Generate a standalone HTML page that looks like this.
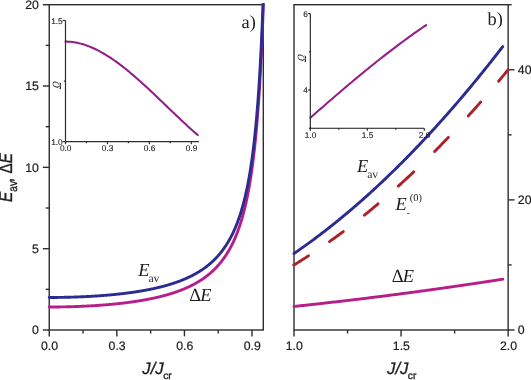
<!DOCTYPE html>
<html><head><meta charset="utf-8"><title>Figure</title>
<style>html,body{margin:0;padding:0;background:#fff}svg{display:block;will-change:transform}text{text-rendering:geometricPrecision}</style></head>
<body>
<svg width="531" height="380" viewBox="0 0 531 380">
<rect width="531" height="380" fill="#fff"/>
<defs><clipPath id="cl"><rect x="46.2" y="3.2" width="219.1" height="328.3"/></clipPath></defs>
<g fill="none" stroke="#302c2d" stroke-width="1.40" stroke-linecap="butt">
<rect x="49.25" y="4.70" width="214.05" height="325.30"/>
<rect x="294.00" y="4.70" width="214.15" height="325.30"/>
<path d="M49.25 330.00 H42.85"/>
<path d="M49.25 289.34 H45.75"/>
<path d="M49.25 248.68 H42.85"/>
<path d="M49.25 208.01 H45.75"/>
<path d="M49.25 167.35 H42.85"/>
<path d="M49.25 126.69 H45.75"/>
<path d="M49.25 86.02 H42.85"/>
<path d="M49.25 45.36 H45.75"/>
<path d="M49.25 4.70 H42.85"/>
<path d="M49.25 330.00 V336.40"/>
<path d="M83.05 330.00 V333.50"/>
<path d="M116.84 330.00 V336.40"/>
<path d="M150.63 330.00 V333.50"/>
<path d="M184.43 330.00 V336.40"/>
<path d="M218.23 330.00 V333.50"/>
<path d="M252.02 330.00 V336.40"/>
<path d="M508.15 330.00 H514.55"/>
<path d="M508.15 264.94 H511.65"/>
<path d="M508.15 199.88 H514.55"/>
<path d="M508.15 134.82 H511.65"/>
<path d="M508.15 69.76 H514.55"/>
<path d="M508.15 4.70 H511.65"/>
<path d="M294.00 330.00 V336.40"/>
<path d="M347.54 330.00 V333.50"/>
<path d="M401.07 330.00 V336.40"/>
<path d="M454.61 330.00 V333.50"/>
<path d="M508.15 330.00 V336.40"/>
</g>
<g fill="none" stroke-linecap="round" stroke-linejoin="round" clip-path="url(#cl)">
<path d="M49.25 307.00 L49.61 307.00 L49.97 307.00 L50.32 307.00 L50.68 307.00 L51.04 307.00 L51.40 306.99 L51.75 306.99 L52.11 306.99 L52.47 306.99 L52.83 306.99 L53.18 306.99 L53.54 306.99 L53.90 306.98 L54.26 306.98 L54.61 306.98 L54.97 306.98 L55.33 306.97 L55.69 306.97 L56.04 306.97 L56.40 306.97 L56.76 306.96 L57.12 306.96 L57.47 306.95 L57.83 306.95 L58.19 306.95 L58.55 306.94 L58.90 306.94 L59.26 306.93 L59.62 306.93 L59.98 306.92 L60.33 306.92 L60.69 306.91 L61.05 306.91 L61.41 306.90 L61.76 306.90 L62.12 306.89 L62.48 306.89 L62.84 306.88 L63.19 306.87 L63.55 306.87 L63.91 306.86 L64.27 306.85 L64.62 306.85 L64.98 306.84 L65.34 306.83 L65.70 306.82 L66.05 306.82 L66.41 306.81 L66.77 306.80 L67.13 306.79 L67.48 306.78 L67.84 306.77 L68.20 306.77 L68.56 306.76 L68.92 306.75 L69.27 306.74 L69.63 306.73 L69.99 306.72 L70.35 306.71 L70.70 306.70 L71.06 306.69 L71.42 306.68 L71.78 306.67 L72.13 306.66 L72.49 306.65 L72.85 306.64 L73.21 306.63 L73.56 306.61 L73.92 306.60 L74.28 306.59 L74.64 306.58 L74.99 306.57 L75.35 306.56 L75.71 306.54 L76.07 306.53 L76.42 306.52 L76.78 306.50 L77.14 306.49 L77.50 306.48 L77.85 306.47 L78.21 306.45 L78.57 306.44 L78.93 306.42 L79.28 306.41 L79.64 306.40 L80.00 306.38 L80.36 306.37 L80.71 306.35 L81.07 306.34 L81.43 306.32 L81.79 306.31 L82.14 306.29 L82.50 306.27 L82.86 306.26 L83.22 306.24 L83.57 306.23 L83.93 306.21 L84.29 306.19 L84.65 306.17 L85.00 306.16 L85.36 306.14 L85.72 306.12 L86.08 306.11 L86.43 306.09 L86.79 306.07 L87.15 306.05 L87.51 306.03 L87.86 306.01 L88.22 305.99 L88.58 305.98 L88.94 305.96 L89.30 305.94 L89.65 305.92 L90.01 305.90 L90.37 305.88 L90.73 305.86 L91.08 305.84 L91.44 305.82 L91.80 305.80 L92.16 305.77 L92.51 305.75 L92.87 305.73 L93.23 305.71 L93.59 305.69 L93.94 305.67 L94.30 305.64 L94.66 305.62 L95.02 305.60 L95.37 305.58 L95.73 305.55 L96.09 305.53 L96.45 305.51 L96.80 305.48 L97.16 305.46 L97.52 305.43 L97.88 305.41 L98.23 305.38 L98.59 305.36 L98.95 305.34 L99.31 305.31 L99.66 305.28 L100.02 305.26 L100.38 305.23 L100.74 305.21 L101.09 305.18 L101.45 305.15 L101.81 305.13 L102.17 305.10 L102.52 305.07 L102.88 305.05 L103.24 305.02 L103.60 304.99 L103.95 304.96 L104.31 304.93 L104.67 304.90 L105.03 304.88 L105.38 304.85 L105.74 304.82 L106.10 304.79 L106.46 304.76 L106.81 304.73 L107.17 304.70 L107.53 304.67 L107.89 304.64 L108.25 304.61 L108.60 304.57 L108.96 304.54 L109.32 304.51 L109.68 304.48 L110.03 304.45 L110.39 304.41 L110.75 304.38 L111.11 304.35 L111.46 304.32 L111.82 304.28 L112.18 304.25 L112.54 304.21 L112.89 304.18 L113.25 304.15 L113.61 304.11 L113.97 304.08 L114.32 304.04 L114.68 304.00 L115.04 303.97 L115.40 303.93 L115.75 303.90 L116.11 303.86 L116.47 303.82 L116.83 303.79 L117.18 303.75 L117.54 303.71 L117.90 303.67 L118.26 303.63 L118.61 303.60 L118.97 303.56 L119.33 303.52 L119.69 303.48 L120.04 303.44 L120.40 303.40 L120.76 303.36 L121.12 303.32 L121.47 303.28 L121.83 303.24 L122.19 303.19 L122.55 303.15 L122.90 303.11 L123.26 303.07 L123.62 303.03 L123.98 302.98 L124.33 302.94 L124.69 302.90 L125.05 302.85 L125.41 302.81 L125.76 302.76 L126.12 302.72 L126.48 302.67 L126.84 302.63 L127.20 302.58 L127.55 302.54 L127.91 302.49 L128.27 302.44 L128.63 302.40 L128.98 302.35 L129.34 302.30 L129.70 302.25 L130.06 302.20 L130.41 302.15 L130.77 302.11 L131.13 302.06 L131.49 302.01 L131.84 301.96 L132.20 301.91 L132.56 301.85 L132.92 301.80 L133.27 301.75 L133.63 301.70 L133.99 301.65 L134.35 301.59 L134.70 301.54 L135.06 301.49 L135.42 301.43 L135.78 301.38 L136.13 301.33 L136.49 301.27 L136.85 301.22 L137.21 301.16 L137.56 301.10 L137.92 301.05 L138.28 300.99 L138.64 300.93 L138.99 300.88 L139.35 300.82 L139.71 300.76 L140.07 300.70 L140.42 300.64 L140.78 300.58 L141.14 300.52 L141.50 300.46 L141.85 300.40 L142.21 300.34 L142.57 300.28 L142.93 300.21 L143.28 300.15 L143.64 300.09 L144.00 300.02 L144.36 299.96 L144.71 299.89 L145.07 299.83 L145.43 299.76 L145.79 299.70 L146.15 299.63 L146.50 299.57 L146.86 299.50 L147.22 299.43 L147.58 299.36 L147.93 299.29 L148.29 299.22 L148.65 299.15 L149.01 299.08 L149.36 299.01 L149.72 298.94 L150.08 298.87 L150.44 298.80 L150.79 298.73 L151.15 298.65 L151.51 298.58 L151.87 298.50 L152.22 298.43 L152.58 298.35 L152.94 298.28 L153.30 298.20 L153.65 298.12 L154.01 298.05 L154.37 297.97 L154.73 297.89 L155.08 297.81 L155.44 297.73 L155.80 297.65 L156.16 297.57 L156.51 297.49 L156.87 297.41 L157.23 297.32 L157.59 297.24 L157.94 297.16 L158.30 297.07 L158.66 296.99 L159.02 296.90 L159.37 296.81 L159.73 296.73 L160.09 296.64 L160.45 296.55 L160.80 296.46 L161.16 296.37 L161.52 296.28 L161.88 296.19 L162.23 296.10 L162.59 296.01 L162.95 295.91 L163.31 295.82 L163.66 295.73 L164.02 295.63 L164.38 295.53 L164.74 295.44 L165.09 295.34 L165.45 295.24 L165.81 295.14 L166.17 295.04 L166.53 294.94 L166.88 294.84 L167.24 294.74 L167.60 294.64 L167.96 294.54 L168.31 294.43 L168.67 294.33 L169.03 294.22 L169.39 294.11 L169.74 294.01 L170.10 293.90 L170.46 293.79 L170.82 293.68 L171.17 293.57 L171.53 293.46 L171.89 293.34 L172.25 293.23 L172.60 293.12 L172.96 293.00 L173.32 292.88 L173.68 292.77 L174.03 292.65 L174.39 292.53 L174.75 292.41 L175.11 292.29 L175.46 292.17 L175.82 292.05 L176.18 291.92 L176.54 291.80 L176.89 291.67 L177.25 291.54 L177.61 291.42 L177.97 291.29 L178.32 291.16 L178.68 291.03 L179.04 290.89 L179.40 290.76 L179.75 290.63 L180.11 290.49 L180.47 290.35 L180.83 290.22 L181.18 290.08 L181.54 289.94 L181.90 289.80 L182.26 289.65 L182.61 289.51 L182.97 289.37 L183.33 289.22 L183.69 289.07 L184.04 288.92 L184.40 288.77 L184.76 288.62 L185.12 288.47 L185.48 288.32 L185.83 288.16 L186.19 288.01 L186.55 287.85 L186.91 287.69 L187.26 287.53 L187.62 287.37 L187.98 287.20 L188.34 287.04 L188.69 286.87 L189.05 286.70 L189.41 286.53 L189.77 286.36 L190.12 286.19 L190.48 286.02 L190.84 285.84 L191.20 285.66 L191.55 285.48 L191.91 285.30 L192.27 285.12 L192.63 284.94 L192.98 284.75 L193.34 284.56 L193.70 284.38 L194.06 284.18 L194.41 283.99 L194.77 283.80 L195.13 283.60 L195.49 283.40 L195.84 283.20 L196.20 283.00 L196.56 282.80 L196.92 282.59 L197.27 282.38 L197.63 282.17 L197.99 281.96 L198.35 281.75 L198.70 281.53 L199.06 281.31 L199.42 281.09 L199.78 280.87 L200.13 280.64 L200.49 280.41 L200.85 280.18 L201.21 279.95 L201.56 279.72 L201.92 279.48 L202.28 279.24 L202.64 279.00 L202.99 278.75 L203.35 278.51 L203.71 278.26 L204.07 278.00 L204.43 277.75 L204.78 277.49 L205.14 277.23 L205.50 276.97 L205.86 276.70 L206.21 276.43 L206.57 276.16 L206.93 275.89 L207.29 275.61 L207.64 275.33 L208.00 275.04 L208.36 274.75 L208.72 274.46 L209.07 274.17 L209.43 273.87 L209.79 273.57 L210.15 273.27 L210.50 272.96 L210.86 272.65 L211.22 272.33 L211.58 272.01 L211.93 271.69 L212.29 271.37 L212.65 271.04 L213.01 270.70 L213.36 270.36 L213.72 270.02 L214.08 269.68 L214.44 269.32 L214.79 268.97 L215.15 268.61 L215.51 268.25 L215.87 267.88 L216.22 267.51 L216.58 267.13 L216.94 266.74 L217.30 266.36 L217.65 265.97 L218.01 265.57 L218.37 265.16 L218.73 264.76 L219.08 264.34 L219.44 263.92 L219.80 263.50 L220.16 263.07 L220.51 262.63 L220.87 262.19 L221.23 261.74 L221.59 261.29 L221.94 260.83 L222.30 260.36 L222.66 259.89 L223.02 259.41 L223.38 258.92 L223.73 258.43 L224.09 257.92 L224.45 257.42 L224.81 256.90 L225.16 256.38 L225.52 255.84 L225.88 255.31 L226.24 254.76 L226.59 254.20 L226.95 253.64 L227.31 253.06 L227.67 252.48 L228.02 251.89 L228.38 251.29 L228.74 250.68 L229.10 250.06 L229.45 249.43 L229.81 248.79 L230.17 248.14 L230.53 247.48 L230.88 246.81 L231.24 246.13 L231.60 245.43 L231.96 244.72 L232.31 244.00 L232.67 243.27 L233.03 242.53 L233.39 241.77 L233.74 241.00 L234.10 240.22 L234.46 239.42 L234.82 238.61 L235.17 237.78 L235.53 236.94 L235.89 236.08 L236.25 235.20 L236.60 234.31 L236.96 233.40 L237.32 232.47 L237.68 231.53 L238.03 230.56 L238.39 229.58 L238.75 228.58 L239.11 227.56 L239.46 226.51 L239.82 225.45 L240.18 224.36 L240.54 223.25 L240.89 222.11 L241.25 220.95 L241.61 219.77 L241.97 218.55 L242.32 217.32 L242.68 216.05 L243.04 214.75 L243.40 213.43 L243.76 212.07 L244.11 210.68 L244.47 209.26 L244.83 207.81 L245.19 206.31 L245.54 204.79 L245.90 203.22 L246.26 201.61 L246.62 199.96 L246.97 198.27 L247.33 196.54 L247.69 194.75 L248.05 192.92 L248.40 191.04 L248.76 189.11 L249.12 187.12 L249.48 185.07 L249.83 182.97 L250.19 180.80 L250.55 178.57 L250.91 176.27 L251.26 173.90 L251.62 171.46 L251.98 168.93 L252.34 166.33 L252.69 163.64 L253.05 160.86 L253.41 157.99 L253.77 155.02 L254.12 151.94 L254.48 148.75 L254.84 145.45 L255.20 142.02 L255.55 138.47 L255.91 134.78 L256.27 130.94 L256.63 126.95 L256.98 122.80 L257.34 118.48 L257.70 113.97 L258.06 109.26 L258.41 104.35 L258.77 99.21 L259.13 93.83 L259.49 88.20 L259.84 82.30 L260.20 76.10 L260.56 69.58 L260.92 62.72 L261.27 55.49 L261.63 47.86 L261.99 39.79 L262.35 31.25 L262.71 22.20 L263.06 12.58 L263.42 2.34" stroke="#b71e89" stroke-width="2.9"/>
<path d="M49.25 297.47 L49.61 297.47 L49.97 297.47 L50.32 297.47 L50.68 297.47 L51.04 297.47 L51.40 297.47 L51.75 297.47 L52.11 297.46 L52.47 297.46 L52.83 297.46 L53.18 297.46 L53.54 297.46 L53.90 297.46 L54.26 297.45 L54.61 297.45 L54.97 297.45 L55.33 297.45 L55.69 297.44 L56.04 297.44 L56.40 297.44 L56.76 297.43 L57.12 297.43 L57.47 297.43 L57.83 297.42 L58.19 297.42 L58.55 297.41 L58.90 297.41 L59.26 297.41 L59.62 297.40 L59.98 297.40 L60.33 297.39 L60.69 297.39 L61.05 297.38 L61.41 297.38 L61.76 297.37 L62.12 297.36 L62.48 297.36 L62.84 297.35 L63.19 297.34 L63.55 297.34 L63.91 297.33 L64.27 297.32 L64.62 297.32 L64.98 297.31 L65.34 297.30 L65.70 297.30 L66.05 297.29 L66.41 297.28 L66.77 297.27 L67.13 297.26 L67.48 297.26 L67.84 297.25 L68.20 297.24 L68.56 297.23 L68.92 297.22 L69.27 297.21 L69.63 297.20 L69.99 297.19 L70.35 297.18 L70.70 297.17 L71.06 297.16 L71.42 297.15 L71.78 297.14 L72.13 297.13 L72.49 297.12 L72.85 297.11 L73.21 297.10 L73.56 297.09 L73.92 297.08 L74.28 297.06 L74.64 297.05 L74.99 297.04 L75.35 297.03 L75.71 297.02 L76.07 297.00 L76.42 296.99 L76.78 296.98 L77.14 296.96 L77.50 296.95 L77.85 296.94 L78.21 296.92 L78.57 296.91 L78.93 296.90 L79.28 296.88 L79.64 296.87 L80.00 296.85 L80.36 296.84 L80.71 296.82 L81.07 296.81 L81.43 296.79 L81.79 296.78 L82.14 296.76 L82.50 296.75 L82.86 296.73 L83.22 296.71 L83.57 296.70 L83.93 296.68 L84.29 296.66 L84.65 296.65 L85.00 296.63 L85.36 296.61 L85.72 296.59 L86.08 296.58 L86.43 296.56 L86.79 296.54 L87.15 296.52 L87.51 296.50 L87.86 296.49 L88.22 296.47 L88.58 296.45 L88.94 296.43 L89.30 296.41 L89.65 296.39 L90.01 296.37 L90.37 296.35 L90.73 296.33 L91.08 296.31 L91.44 296.29 L91.80 296.27 L92.16 296.25 L92.51 296.22 L92.87 296.20 L93.23 296.18 L93.59 296.16 L93.94 296.14 L94.30 296.12 L94.66 296.09 L95.02 296.07 L95.37 296.05 L95.73 296.02 L96.09 296.00 L96.45 295.98 L96.80 295.95 L97.16 295.93 L97.52 295.91 L97.88 295.88 L98.23 295.86 L98.59 295.83 L98.95 295.81 L99.31 295.78 L99.66 295.76 L100.02 295.73 L100.38 295.70 L100.74 295.68 L101.09 295.65 L101.45 295.62 L101.81 295.60 L102.17 295.57 L102.52 295.54 L102.88 295.52 L103.24 295.49 L103.60 295.46 L103.95 295.43 L104.31 295.40 L104.67 295.37 L105.03 295.35 L105.38 295.32 L105.74 295.29 L106.10 295.26 L106.46 295.23 L106.81 295.20 L107.17 295.17 L107.53 295.14 L107.89 295.11 L108.25 295.08 L108.60 295.04 L108.96 295.01 L109.32 294.98 L109.68 294.95 L110.03 294.92 L110.39 294.88 L110.75 294.85 L111.11 294.82 L111.46 294.78 L111.82 294.75 L112.18 294.72 L112.54 294.68 L112.89 294.65 L113.25 294.61 L113.61 294.58 L113.97 294.54 L114.32 294.51 L114.68 294.47 L115.04 294.44 L115.40 294.40 L115.75 294.37 L116.11 294.33 L116.47 294.29 L116.83 294.25 L117.18 294.22 L117.54 294.18 L117.90 294.14 L118.26 294.10 L118.61 294.06 L118.97 294.02 L119.33 293.99 L119.69 293.95 L120.04 293.91 L120.40 293.87 L120.76 293.83 L121.12 293.79 L121.47 293.74 L121.83 293.70 L122.19 293.66 L122.55 293.62 L122.90 293.58 L123.26 293.53 L123.62 293.49 L123.98 293.45 L124.33 293.41 L124.69 293.36 L125.05 293.32 L125.41 293.27 L125.76 293.23 L126.12 293.18 L126.48 293.14 L126.84 293.09 L127.20 293.05 L127.55 293.00 L127.91 292.95 L128.27 292.91 L128.63 292.86 L128.98 292.81 L129.34 292.76 L129.70 292.72 L130.06 292.67 L130.41 292.62 L130.77 292.57 L131.13 292.52 L131.49 292.47 L131.84 292.42 L132.20 292.37 L132.56 292.32 L132.92 292.27 L133.27 292.21 L133.63 292.16 L133.99 292.11 L134.35 292.06 L134.70 292.00 L135.06 291.95 L135.42 291.90 L135.78 291.84 L136.13 291.79 L136.49 291.73 L136.85 291.68 L137.21 291.62 L137.56 291.56 L137.92 291.51 L138.28 291.45 L138.64 291.39 L138.99 291.34 L139.35 291.28 L139.71 291.22 L140.07 291.16 L140.42 291.10 L140.78 291.04 L141.14 290.98 L141.50 290.92 L141.85 290.86 L142.21 290.80 L142.57 290.73 L142.93 290.67 L143.28 290.61 L143.64 290.54 L144.00 290.48 L144.36 290.42 L144.71 290.35 L145.07 290.29 L145.43 290.22 L145.79 290.15 L146.15 290.09 L146.50 290.02 L146.86 289.95 L147.22 289.89 L147.58 289.82 L147.93 289.75 L148.29 289.68 L148.65 289.61 L149.01 289.54 L149.36 289.47 L149.72 289.40 L150.08 289.32 L150.44 289.25 L150.79 289.18 L151.15 289.10 L151.51 289.03 L151.87 288.96 L152.22 288.88 L152.58 288.80 L152.94 288.73 L153.30 288.65 L153.65 288.57 L154.01 288.50 L154.37 288.42 L154.73 288.34 L155.08 288.26 L155.44 288.18 L155.80 288.10 L156.16 288.02 L156.51 287.94 L156.87 287.85 L157.23 287.77 L157.59 287.69 L157.94 287.60 L158.30 287.52 L158.66 287.43 L159.02 287.35 L159.37 287.26 L159.73 287.17 L160.09 287.08 L160.45 286.99 L160.80 286.90 L161.16 286.81 L161.52 286.72 L161.88 286.63 L162.23 286.54 L162.59 286.45 L162.95 286.35 L163.31 286.26 L163.66 286.17 L164.02 286.07 L164.38 285.97 L164.74 285.88 L165.09 285.78 L165.45 285.68 L165.81 285.58 L166.17 285.48 L166.53 285.38 L166.88 285.28 L167.24 285.18 L167.60 285.07 L167.96 284.97 L168.31 284.86 L168.67 284.76 L169.03 284.65 L169.39 284.55 L169.74 284.44 L170.10 284.33 L170.46 284.22 L170.82 284.11 L171.17 284.00 L171.53 283.89 L171.89 283.77 L172.25 283.66 L172.60 283.54 L172.96 283.43 L173.32 283.31 L173.68 283.19 L174.03 283.08 L174.39 282.96 L174.75 282.84 L175.11 282.71 L175.46 282.59 L175.82 282.47 L176.18 282.34 L176.54 282.22 L176.89 282.09 L177.25 281.97 L177.61 281.84 L177.97 281.71 L178.32 281.58 L178.68 281.45 L179.04 281.31 L179.40 281.18 L179.75 281.04 L180.11 280.91 L180.47 280.77 L180.83 280.63 L181.18 280.49 L181.54 280.35 L181.90 280.21 L182.26 280.07 L182.61 279.92 L182.97 279.78 L183.33 279.63 L183.69 279.48 L184.04 279.33 L184.40 279.18 L184.76 279.03 L185.12 278.88 L185.48 278.72 L185.83 278.57 L186.19 278.41 L186.55 278.25 L186.91 278.09 L187.26 277.93 L187.62 277.77 L187.98 277.60 L188.34 277.44 L188.69 277.27 L189.05 277.10 L189.41 276.93 L189.77 276.76 L190.12 276.59 L190.48 276.41 L190.84 276.24 L191.20 276.06 L191.55 275.88 L191.91 275.70 L192.27 275.51 L192.63 275.33 L192.98 275.14 L193.34 274.96 L193.70 274.77 L194.06 274.57 L194.41 274.38 L194.77 274.18 L195.13 273.99 L195.49 273.79 L195.84 273.59 L196.20 273.38 L196.56 273.18 L196.92 272.97 L197.27 272.76 L197.63 272.55 L197.99 272.34 L198.35 272.12 L198.70 271.91 L199.06 271.69 L199.42 271.47 L199.78 271.24 L200.13 271.01 L200.49 270.79 L200.85 270.56 L201.21 270.32 L201.56 270.09 L201.92 269.85 L202.28 269.61 L202.64 269.37 L202.99 269.12 L203.35 268.87 L203.71 268.62 L204.07 268.37 L204.43 268.11 L204.78 267.85 L205.14 267.59 L205.50 267.33 L205.86 267.06 L206.21 266.79 L206.57 266.52 L206.93 266.24 L207.29 265.96 L207.64 265.68 L208.00 265.39 L208.36 265.11 L208.72 264.81 L209.07 264.52 L209.43 264.22 L209.79 263.92 L210.15 263.61 L210.50 263.30 L210.86 262.99 L211.22 262.68 L211.58 262.36 L211.93 262.03 L212.29 261.70 L212.65 261.37 L213.01 261.04 L213.36 260.70 L213.72 260.36 L214.08 260.01 L214.44 259.66 L214.79 259.30 L215.15 258.94 L215.51 258.57 L215.87 258.20 L216.22 257.83 L216.58 257.45 L216.94 257.07 L217.30 256.68 L217.65 256.28 L218.01 255.89 L218.37 255.48 L218.73 255.07 L219.08 254.66 L219.44 254.24 L219.80 253.81 L220.16 253.38 L220.51 252.94 L220.87 252.50 L221.23 252.05 L221.59 251.59 L221.94 251.13 L222.30 250.66 L222.66 250.19 L223.02 249.71 L223.38 249.22 L223.73 248.72 L224.09 248.22 L224.45 247.71 L224.81 247.19 L225.16 246.67 L225.52 246.13 L225.88 245.59 L226.24 245.04 L226.59 244.49 L226.95 243.92 L227.31 243.35 L227.67 242.76 L228.02 242.17 L228.38 241.57 L228.74 240.96 L229.10 240.34 L229.45 239.70 L229.81 239.06 L230.17 238.41 L230.53 237.75 L230.88 237.07 L231.24 236.39 L231.60 235.69 L231.96 234.98 L232.31 234.26 L232.67 233.53 L233.03 232.79 L233.39 232.03 L233.74 231.25 L234.10 230.47 L234.46 229.67 L234.82 228.85 L235.17 228.02 L235.53 227.18 L235.89 226.32 L236.25 225.44 L236.60 224.55 L236.96 223.64 L237.32 222.71 L237.68 221.76 L238.03 220.80 L238.39 219.81 L238.75 218.81 L239.11 217.78 L239.46 216.74 L239.82 215.67 L240.18 214.58 L240.54 213.46 L240.89 212.33 L241.25 211.17 L241.61 209.98 L241.97 208.77 L242.32 207.53 L242.68 206.26 L243.04 204.96 L243.40 203.63 L243.76 202.27 L244.11 200.88 L244.47 199.46 L244.83 198.00 L245.19 196.51 L245.54 194.98 L245.90 193.41 L246.26 191.80 L246.62 190.15 L246.97 188.45 L247.33 186.72 L247.69 184.93 L248.05 183.10 L248.40 181.22 L248.76 179.28 L249.12 177.29 L249.48 175.24 L249.83 173.13 L250.19 170.97 L250.55 168.73 L250.91 166.43 L251.26 164.06 L251.62 161.61 L251.98 159.09 L252.34 156.48 L252.69 153.79 L253.05 151.01 L253.41 148.13 L253.77 145.16 L254.12 142.08 L254.48 138.89 L254.84 135.58 L255.20 132.16 L255.55 128.60 L255.91 124.90 L256.27 121.07 L256.63 117.07 L256.98 112.92 L257.34 108.59 L257.70 104.08 L258.06 99.37 L258.41 94.46 L258.77 89.32 L259.13 83.94 L259.49 78.30 L259.84 72.40 L260.20 66.19 L260.56 59.67 L260.92 52.81 L261.27 45.58 L261.63 37.94 L261.99 29.87 L262.35 21.33 L262.71 12.27 L263.06 2.65 L263.42 -7.59" stroke="#2a2c8f" stroke-width="2.9"/>
</g>
<g fill="none" stroke-linecap="round" stroke-linejoin="round">
<path d="M294.00 306.45 L295.05 306.34 L296.10 306.23 L297.15 306.12 L298.20 306.01 L299.25 305.89 L300.30 305.78 L301.34 305.67 L302.39 305.56 L303.44 305.45 L304.49 305.33 L305.54 305.22 L306.59 305.11 L307.64 304.99 L308.69 304.88 L309.74 304.76 L310.79 304.65 L311.84 304.54 L312.89 304.42 L313.94 304.30 L314.98 304.19 L316.03 304.07 L317.08 303.96 L318.13 303.84 L319.18 303.72 L320.23 303.61 L321.28 303.49 L322.33 303.37 L323.38 303.26 L324.43 303.14 L325.48 303.02 L326.53 302.90 L327.58 302.78 L328.62 302.66 L329.67 302.54 L330.72 302.42 L331.77 302.30 L332.82 302.18 L333.87 302.06 L334.92 301.94 L335.97 301.82 L337.02 301.70 L338.07 301.58 L339.12 301.46 L340.17 301.34 L341.22 301.21 L342.26 301.09 L343.31 300.97 L344.36 300.85 L345.41 300.72 L346.46 300.60 L347.51 300.48 L348.56 300.35 L349.61 300.23 L350.66 300.10 L351.71 299.98 L352.76 299.85 L353.81 299.73 L354.86 299.60 L355.90 299.48 L356.95 299.35 L358.00 299.22 L359.05 299.10 L360.10 298.97 L361.15 298.84 L362.20 298.71 L363.25 298.59 L364.30 298.46 L365.35 298.33 L366.40 298.20 L367.45 298.07 L368.50 297.94 L369.54 297.81 L370.59 297.68 L371.64 297.55 L372.69 297.42 L373.74 297.29 L374.79 297.16 L375.84 297.03 L376.89 296.90 L377.94 296.77 L378.99 296.64 L380.04 296.50 L381.09 296.37 L382.14 296.24 L383.18 296.11 L384.23 295.97 L385.28 295.84 L386.33 295.71 L387.38 295.57 L388.43 295.44 L389.48 295.30 L390.53 295.17 L391.58 295.03 L392.63 294.90 L393.68 294.76 L394.73 294.63 L395.78 294.49 L396.82 294.35 L397.87 294.22 L398.92 294.08 L399.97 293.94 L401.02 293.80 L402.07 293.67 L403.12 293.53 L404.17 293.39 L405.22 293.25 L406.27 293.11 L407.32 292.97 L408.37 292.83 L409.42 292.69 L410.46 292.55 L411.51 292.41 L412.56 292.27 L413.61 292.13 L414.66 291.99 L415.71 291.85 L416.76 291.71 L417.81 291.57 L418.86 291.43 L419.91 291.28 L420.96 291.14 L422.01 291.00 L423.05 290.85 L424.10 290.71 L425.15 290.57 L426.20 290.42 L427.25 290.28 L428.30 290.13 L429.35 289.99 L430.40 289.84 L431.45 289.70 L432.50 289.55 L433.55 289.41 L434.60 289.26 L435.65 289.12 L436.69 288.97 L437.74 288.82 L438.79 288.67 L439.84 288.53 L440.89 288.38 L441.94 288.23 L442.99 288.08 L444.04 287.93 L445.09 287.79 L446.14 287.64 L447.19 287.49 L448.24 287.34 L449.29 287.19 L450.33 287.04 L451.38 286.89 L452.43 286.74 L453.48 286.59 L454.53 286.43 L455.58 286.28 L456.63 286.13 L457.68 285.98 L458.73 285.83 L459.78 285.67 L460.83 285.52 L461.88 285.37 L462.93 285.21 L463.97 285.06 L465.02 284.91 L466.07 284.75 L467.12 284.60 L468.17 284.44 L469.22 284.29 L470.27 284.13 L471.32 283.98 L472.37 283.82 L473.42 283.67 L474.47 283.51 L475.52 283.35 L476.57 283.20 L477.61 283.04 L478.66 282.88 L479.71 282.72 L480.76 282.57 L481.81 282.41 L482.86 282.25 L483.91 282.09 L484.96 281.93 L486.01 281.77 L487.06 281.61 L488.11 281.45 L489.16 281.29 L490.21 281.13 L491.25 280.97 L492.30 280.81 L493.35 280.65 L494.40 280.49 L495.45 280.33 L496.50 280.17 L497.55 280.00 L498.60 279.84 L499.65 279.68 L500.70 279.51 L501.75 279.35 L502.80 279.19" stroke="#b71e89" stroke-width="2.9"/>
<path d="M294.00 253.49 L295.05 252.77 L296.10 252.05 L297.15 251.33 L298.20 250.60 L299.25 249.87 L300.30 249.13 L301.34 248.40 L302.39 247.66 L303.44 246.91 L304.49 246.16 L305.54 245.41 L306.59 244.66 L307.64 243.90 L308.69 243.14 L309.74 242.38 L310.79 241.61 L311.84 240.84 L312.89 240.07 L313.94 239.29 L314.98 238.51 L316.03 237.73 L317.08 236.94 L318.13 236.15 L319.18 235.36 L320.23 234.56 L321.28 233.77 L322.33 232.96 L323.38 232.16 L324.43 231.35 L325.48 230.53 L326.53 229.72 L327.58 228.90 L328.62 228.08 L329.67 227.25 L330.72 226.42 L331.77 225.59 L332.82 224.76 L333.87 223.92 L334.92 223.07 L335.97 222.23 L337.02 221.38 L338.07 220.53 L339.12 219.67 L340.17 218.82 L341.22 217.95 L342.26 217.09 L343.31 216.22 L344.36 215.35 L345.41 214.48 L346.46 213.60 L347.51 212.72 L348.56 211.83 L349.61 210.94 L350.66 210.05 L351.71 209.16 L352.76 208.26 L353.81 207.36 L354.86 206.46 L355.90 205.55 L356.95 204.64 L358.00 203.73 L359.05 202.81 L360.10 201.89 L361.15 200.97 L362.20 200.04 L363.25 199.11 L364.30 198.18 L365.35 197.24 L366.40 196.30 L367.45 195.36 L368.50 194.41 L369.54 193.46 L370.59 192.51 L371.64 191.55 L372.69 190.59 L373.74 189.63 L374.79 188.67 L375.84 187.70 L376.89 186.73 L377.94 185.75 L378.99 184.77 L380.04 183.79 L381.09 182.80 L382.14 181.82 L383.18 180.82 L384.23 179.83 L385.28 178.83 L386.33 177.83 L387.38 176.82 L388.43 175.82 L389.48 174.81 L390.53 173.79 L391.58 172.77 L392.63 171.75 L393.68 170.73 L394.73 169.70 L395.78 168.67 L396.82 167.64 L397.87 166.60 L398.92 165.56 L399.97 164.52 L401.02 163.47 L402.07 162.42 L403.12 161.37 L404.17 160.31 L405.22 159.25 L406.27 158.19 L407.32 157.12 L408.37 156.05 L409.42 154.98 L410.46 153.90 L411.51 152.82 L412.56 151.74 L413.61 150.65 L414.66 149.56 L415.71 148.47 L416.76 147.38 L417.81 146.28 L418.86 145.18 L419.91 144.07 L420.96 142.96 L422.01 141.85 L423.05 140.74 L424.10 139.62 L425.15 138.50 L426.20 137.37 L427.25 136.24 L428.30 135.11 L429.35 133.98 L430.40 132.84 L431.45 131.70 L432.50 130.56 L433.55 129.41 L434.60 128.26 L435.65 127.10 L436.69 125.95 L437.74 124.79 L438.79 123.62 L439.84 122.46 L440.89 121.29 L441.94 120.11 L442.99 118.94 L444.04 117.76 L445.09 116.57 L446.14 115.39 L447.19 114.20 L448.24 113.01 L449.29 111.81 L450.33 110.61 L451.38 109.41 L452.43 108.20 L453.48 106.99 L454.53 105.78 L455.58 104.57 L456.63 103.35 L457.68 102.13 L458.73 100.90 L459.78 99.67 L460.83 98.44 L461.88 97.21 L462.93 95.97 L463.97 94.73 L465.02 93.48 L466.07 92.24 L467.12 90.98 L468.17 89.73 L469.22 88.47 L470.27 87.21 L471.32 85.95 L472.37 84.68 L473.42 83.41 L474.47 82.14 L475.52 80.86 L476.57 79.58 L477.61 78.30 L478.66 77.01 L479.71 75.72 L480.76 74.43 L481.81 73.13 L482.86 71.83 L483.91 70.53 L484.96 69.23 L486.01 67.92 L487.06 66.60 L488.11 65.29 L489.16 63.97 L490.21 62.65 L491.25 61.32 L492.30 60.00 L493.35 58.66 L494.40 57.33 L495.45 55.99 L496.50 54.65 L497.55 53.31 L498.60 51.96 L499.65 50.61 L500.70 49.25 L501.75 47.90 L502.80 46.53" stroke="#2a2c8f" stroke-width="2.9"/>
<path d="M293.80 265.06 L295.13 264.25 L296.45 263.44 L297.78 262.62 L299.11 261.80 L300.44 260.97 L301.76 260.14 L303.09 259.30 L304.42 258.46 L305.75 257.61 L307.07 256.75 L308.40 255.90" stroke="#ac2028" stroke-width="2.9"/>
<path d="M329.50 241.58 L330.75 240.69 L332.01 239.80 L333.26 238.90 L334.52 237.99 L335.77 237.08 L337.03 236.17 L338.28 235.25 L339.54 234.33 L340.79 233.40 L342.05 232.47 L343.30 231.54" stroke="#ac2028" stroke-width="2.9"/>
<path d="M364.40 215.13 L365.65 214.13 L366.89 213.11 L368.14 212.10 L369.38 211.08 L370.63 210.05 L371.87 209.02 L373.12 207.99 L374.36 206.95 L375.61 205.91 L376.85 204.86 L378.10 203.81" stroke="#ac2028" stroke-width="2.9"/>
<path d="M398.30 186.13 L399.71 184.86 L401.12 183.58 L402.53 182.29 L403.94 181.00 L405.35 179.70 L406.75 178.39 L408.16 177.08 L409.57 175.77 L410.98 174.45 L412.39 173.12 L413.80 171.79" stroke="#ac2028" stroke-width="2.9"/>
<path d="M434.60 151.47 L435.85 150.21 L437.09 148.95 L438.34 147.68 L439.58 146.42 L440.83 145.14 L442.07 143.86 L443.32 142.58 L444.56 141.30 L445.81 140.00 L447.05 138.71 L448.30 137.41" stroke="#ac2028" stroke-width="2.9"/>
<path d="M468.20 116.04 L469.34 114.79 L470.47 113.53 L471.61 112.27 L472.75 111.01 L473.88 109.74 L475.02 108.47 L476.15 107.19 L477.29 105.91 L478.43 104.63 L479.56 103.34 L480.70 102.05" stroke="#ac2028" stroke-width="2.9"/>
<path d="M498.60 81.24 L499.45 80.22 L500.31 79.20 L501.16 78.18 L502.02 77.16 L502.87 76.13 L503.73 75.11 L504.58 74.08 L505.44 73.05 L506.29 72.01 L507.15 70.98 L508.00 69.94" stroke="#ac2028" stroke-width="2.9"/>
</g>
<g font-family="'Liberation Sans', sans-serif" font-size="12.3" fill="#1c1c1c" stroke="#1c1c1c" stroke-width="0.2">
<text x="38.9" y="334.30" text-anchor="end">0</text>
<text x="38.9" y="252.98" text-anchor="end">5</text>
<text x="38.9" y="171.65" text-anchor="end">10</text>
<text x="38.9" y="90.32" text-anchor="end">15</text>
<text x="38.9" y="9.00" text-anchor="end">20</text>
<text x="49.55" y="350.1" text-anchor="middle">0.0</text>
<text x="117.14" y="350.1" text-anchor="middle">0.3</text>
<text x="184.73" y="350.1" text-anchor="middle">0.6</text>
<text x="252.32" y="350.1" text-anchor="middle">0.9</text>
<text x="517.8" y="334.30">0</text>
<text x="517.8" y="204.18">20</text>
<text x="517.8" y="74.06">40</text>
<text x="294.30" y="350.1" text-anchor="middle">1.0</text>
<text x="401.38" y="350.1" text-anchor="middle">1.5</text>
<text x="508.45" y="350.1" text-anchor="middle">2.0</text>
</g>
<g font-family="'Liberation Sans', sans-serif" font-style="italic" font-size="16.8" fill="#1c1c1c" stroke="#1c1c1c" stroke-width="0.3">
<text x="142.30" y="374.0">J/J<tspan font-style="normal" font-size="10.4" dy="5.4" dx="-0.6">cr</tspan></text>
<text x="387.00" y="374.0">J/J<tspan font-style="normal" font-size="10.4" dy="5.4" dx="-0.6">cr</tspan></text>
<text font-size="15.4" transform="translate(11.7 202) rotate(-90) scale(1 1.2)">E<tspan font-style="normal" font-size="10.2" dy="4.6">av</tspan><tspan font-style="normal" dy="-4.6" dx="-1.2">, Δ</tspan>E</text>
</g>
<g font-family="'Liberation Serif', serif" font-size="18.4" fill="#1c1c1c">
<text x="241.6" y="27.8">a)</text>
<text x="487.5" y="24.7">b)</text>
<text x="138.2" y="275.9" font-style="italic">E<tspan font-style="normal" font-size="11.6" dy="6.0" dx="-1">av</tspan></text>
<text x="189.3" y="300.8">Δ<tspan font-style="italic" dx="-1">E</tspan></text>
<text x="391.8" y="281.6">Δ<tspan font-style="italic" dx="-1">E</tspan></text>
<text x="356.9" y="171.7" font-style="italic">E<tspan font-style="normal" font-size="11.6" dy="6.0" dx="-1">av</tspan></text>
<text x="395.6" y="210.1" font-style="italic">E</text>
<text x="406.4" y="216.2" font-size="10.2">-</text>
<text x="409.8" y="201.4" font-size="10.4">(0)</text>
</g>
<path d="M65.50 41.60 L67.17 41.63 L68.85 41.70 L70.52 41.83 L72.20 42.01 L73.87 42.24 L75.55 42.51 L77.22 42.83 L78.90 43.20 L80.57 43.62 L82.25 44.07 L83.92 44.58 L85.60 45.13 L87.27 45.71 L88.95 46.35 L90.62 47.02 L92.29 47.73 L93.97 48.48 L95.64 49.27 L97.32 50.10 L98.99 50.96 L100.67 51.86 L102.34 52.79 L104.02 53.76 L105.69 54.76 L107.37 55.80 L109.04 56.86 L110.72 57.96 L112.39 59.08 L114.07 60.24 L115.74 61.42 L117.42 62.63 L119.09 63.87 L120.76 65.13 L122.44 66.42 L124.11 67.73 L125.79 69.06 L127.46 70.41 L129.14 71.79 L130.81 73.19 L132.49 74.60 L134.16 76.04 L135.84 77.49 L137.51 78.96 L139.19 80.44 L140.86 81.94 L142.54 83.45 L144.21 84.98 L145.88 86.52 L147.56 88.06 L149.23 89.62 L150.91 91.19 L152.58 92.77 L154.26 94.35 L155.93 95.94 L157.61 97.54 L159.28 99.14 L160.96 100.75 L162.63 102.35 L164.31 103.96 L165.98 105.57 L167.66 107.18 L169.33 108.79 L171.01 110.40 L172.68 112.00 L174.35 113.60 L176.03 115.20 L177.70 116.79 L179.38 118.37 L181.05 119.95 L182.73 121.52 L184.40 123.07 L186.08 124.62 L187.75 126.16 L189.43 127.68 L191.10 129.19 L192.78 130.68 L194.45 132.16 L196.13 133.62 L197.80 135.07" fill="none" stroke="#921e8a" stroke-width="2.05" stroke-linecap="round"/>
<g fill="none" stroke="#2e2e2e" stroke-width="1.2">
<path d="M65.50 20.50 V141.60 H198.90"/>
<path d="M65.50 141.60 V144.20"/>
<path d="M86.47 141.60 V143.20"/>
<path d="M107.44 141.60 V144.20"/>
<path d="M128.41 141.60 V143.20"/>
<path d="M149.38 141.60 V144.20"/>
<path d="M170.35 141.60 V143.20"/>
<path d="M191.32 141.60 V144.20"/>
<path d="M65.50 141.60 H62.70"/>
<path d="M65.50 81.05 H63.90"/>
<path d="M65.50 20.50 H62.70"/>
</g>
<path d="M310.41 117.75 L312.38 116.02 L314.34 114.30 L316.30 112.57 L318.26 110.85 L320.23 109.13 L322.19 107.42 L324.15 105.71 L326.11 104.00 L328.08 102.30 L330.04 100.60 L332.00 98.90 L333.96 97.21 L335.93 95.52 L337.89 93.84 L339.85 92.16 L341.81 90.48 L343.78 88.81 L345.74 87.15 L347.70 85.49 L349.66 83.83 L351.63 82.18 L353.59 80.54 L355.55 78.90 L357.51 77.27 L359.48 75.64 L361.44 74.02 L363.40 72.41 L365.36 70.80 L367.33 69.20 L369.29 67.61 L371.25 66.03 L373.21 64.45 L375.18 62.87 L377.14 61.31 L379.10 59.75 L381.06 58.20 L383.03 56.66 L384.99 55.13 L386.95 53.61 L388.91 52.09 L390.88 50.58 L392.84 49.08 L394.80 47.59 L396.76 46.11 L398.73 44.64 L400.69 43.18 L402.65 41.72 L404.61 40.28 L406.58 38.85 L408.54 37.42 L410.50 36.01 L412.46 34.60 L414.43 33.21 L416.39 31.83 L418.35 30.46 L420.31 29.10 L422.28 27.75 L424.24 26.41 L426.20 25.08" fill="none" stroke="#921e8a" stroke-width="2.05" stroke-linecap="round"/>
<g fill="none" stroke="#141414" stroke-width="1.05">
<path d="M310.30 13.60 V128.20 H424.20"/>
<path d="M310.30 128.20 V130.80"/>
<path d="M338.80 128.20 V129.80"/>
<path d="M367.30 128.20 V130.80"/>
<path d="M395.80 128.20 V129.80"/>
<path d="M424.30 128.20 V130.80"/>
<path d="M310.30 128.20 H308.90"/>
<path d="M310.30 90.00 H308.10"/>
<path d="M310.30 51.80 H308.90"/>
<path d="M310.30 13.60 H308.10"/>
</g>
<g font-family="'Liberation Sans', sans-serif" font-size="8.3" fill="#1c1c1c" stroke="#1c1c1c" stroke-width="0.12">
<text x="62.7" y="23.60" text-anchor="end">1.5</text>
<text x="62.7" y="144.50" text-anchor="end">1.0</text>
<text x="65.70" y="151.2" text-anchor="middle">0.0</text>
<text x="107.64" y="151.2" text-anchor="middle">0.3</text>
<text x="149.58" y="151.2" text-anchor="middle">0.6</text>
<text x="191.52" y="151.2" text-anchor="middle">0.9</text>
<text x="307.9" y="16.50" text-anchor="end">6</text>
<text x="307.9" y="92.90" text-anchor="end">4</text>
<text x="310.50" y="137.7" text-anchor="middle">1.0</text>
<text x="367.50" y="137.7" text-anchor="middle">1.5</text>
<text x="424.50" y="137.7" text-anchor="middle">2.0</text>
</g>
<g font-family="'Liberation Serif', serif" font-style="italic" font-size="12.6" fill="#222">
<text transform="translate(61.4 89.2) rotate(-90) skewX(-10) scale(0.78 1)">Ω</text>
<text transform="translate(306.3 62.2) rotate(-90) skewX(-10) scale(0.78 1)">Ω</text>
</g>
</svg>
</body></html>
